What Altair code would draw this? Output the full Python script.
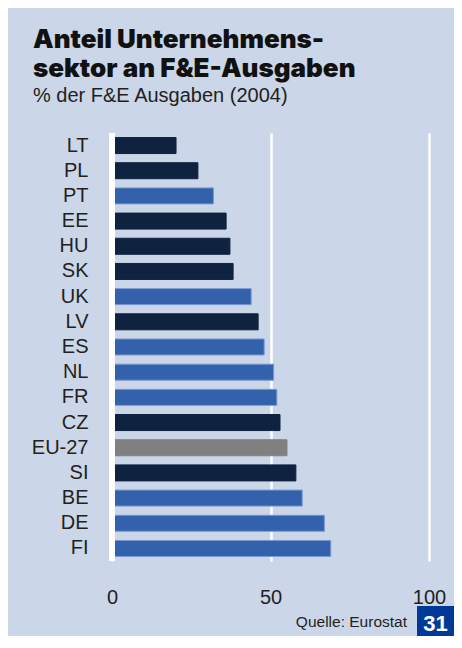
import altair as alt
import pandas as pd

countries = ["LT", "PL", "PT", "EE", "HU", "SK", "UK", "LV", "ES", "NL",
             "FR", "CZ", "EU-27", "SI", "BE", "DE", "FI"]
values = [20.2, 27.1, 32.0, 36.0, 37.2, 38.2, 43.9, 46.1, 48.0, 51.0,
          52.0, 53.0, 55.2, 58.0, 60.0, 67.0, 69.0]
groups = ["new", "new", "old", "new", "new", "new", "old", "new", "old", "old",
          "old", "new", "eu", "new", "old", "old", "old"]
x_ticks = [0, 50, 100]

title_lines = ["Anteil Unternehmens-", "sektor an F&E-Ausgaben"]
subtitle = "% der F&E Ausgaben (2004)"
source = "Quelle: Eurostat"
page_no = "31"

df = pd.DataFrame({"country": countries, "value": values, "group": groups})

BG = "#CBD6E8"
NAVY = "#0F2340"
BLUE = "#3361AC"
GREY = "#808080"
TXT = "#231F20"

base = alt.Chart(df)

bars = base.mark_bar(strokeWidth=1).encode(
    y=alt.Y("country:N", sort=countries,
            scale=alt.Scale(paddingInner=0.364, paddingOuter=0.18),
            axis=alt.Axis(title=None, domain=False, ticks=False,
                          labelFont="Liberation Sans", labelFontSize=20,
                          labelColor=TXT, labelPadding=24)),
    x=alt.X("value:Q", scale=alt.Scale(domain=[0, 100], nice=False),
            axis=alt.Axis(title=None, values=x_ticks, domain=False, ticks=False,
                          grid=True, gridColor="white", gridWidth=2.5, gridOpacity=1,
                          labelFont="Liberation Sans", labelFontSize=20,
                          labelColor=TXT, labelPadding=26, labelFlush=False)),
    color=alt.Color("group:N", scale=alt.Scale(domain=["new", "old", "eu"],
                                               range=[NAVY, BLUE, GREY]), legend=None),
    stroke=alt.Stroke("group:N", scale=alt.Scale(domain=["new", "old", "eu"],
                                                 range=[NAVY, "#7A9AD0", GREY]), legend=None),
)

zero = alt.Chart(pd.DataFrame({"z": [0]})).mark_rule(color="white", strokeWidth=6).encode(
    x=alt.X("z:Q")
)

src = alt.Chart(pd.DataFrame({"t": [source]})).mark_text(
    font="Liberation Sans", fontSize=15.5, color=TXT, align="right", baseline="alphabetic"
).encode(text="t:N", x=alt.value(295), y=alt.value(494))

box = alt.Chart(pd.DataFrame({"t": [page_no]})).mark_rect(color="#003A96").encode(
    x=alt.value(305), x2=alt.value(342), y=alt.value(473), y2=alt.value(503)
)

num = alt.Chart(pd.DataFrame({"t": [page_no]})).mark_text(
    font="Liberation Sans", fontWeight="bold", fontSize=22, color="white",
    align="center", baseline="alphabetic"
).encode(text="t:N", x=alt.value(323.5), y=alt.value(498))

chart = alt.layer(bars, zero, src, box, num).properties(
    width=317, height=428,
    padding={"left": 104, "top": 125, "right": 25, "bottom": 75},
    autosize=alt.AutoSizeParams(type="none"),
    title=alt.TitleParams(
        text=title_lines, subtitle=subtitle,
        anchor="start", frame="group", dx=-79,
        font="Inter", fontWeight=900, fontSize=26, lineHeight=29, color="#111111",
        subtitleFont="Liberation Sans", subtitleFontSize=20, subtitleColor=TXT,
        subtitlePadding=4, offset=24,
    ),
).configure(background=BG).configure_view(stroke=None)

chart.save("out.html", embed_options={"renderer": "svg", "actions": False})
